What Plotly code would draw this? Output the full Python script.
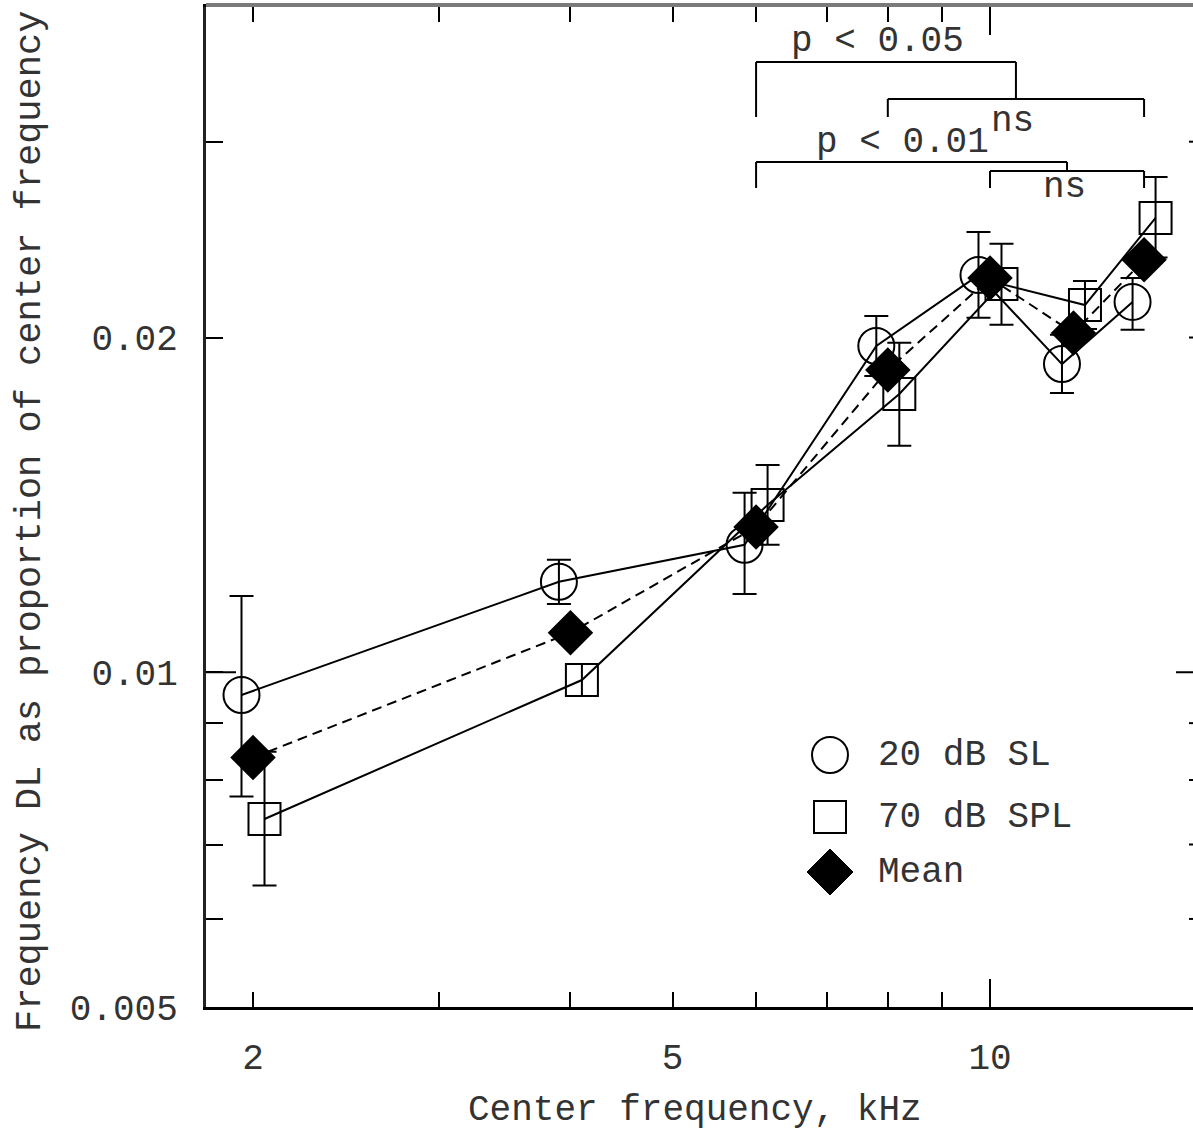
import numpy as np
import plotly.graph_objects as go

# ---------------- data ----------------
freq_khz = [2, 4, 6, 8, 10, 12, 14]

sl20 = [0.00954, 0.01206, 0.01302, 0.01965, 0.02276, 0.01893, 0.02153]
sl20_hi = [0.01171, 0.01262, 0.01450, 0.02091, 0.02488, 0.02011, 0.02262]
sl20_lo = [0.00773, 0.01152, 0.01176, 0.01847, 0.02083, 0.01783, 0.02032]

spl70 = [0.00738, 0.00984, 0.01414, 0.01779, 0.02234, 0.02139, 0.02562]
spl70_hi = [0.00848, 0.01017, 0.01536, 0.01978, 0.02428, 0.02248, 0.02789]
spl70_lo = [0.00643, 0.00952, 0.01302, 0.01598, 0.02053, 0.02036, 0.02360]

mean_dl = [0.00838, 0.01085, 0.01351, 0.01870, 0.02262, 0.02019, 0.02349]

series_names = ["20 dB SL", "70 dB SPL", "Mean"]

x_tickvals = [2, 5, 10]
x_ticktext = ["2", "5", "10"]
x_minor = [3, 4, 6, 7, 8, 9]
y_tickvals = [0.005, 0.01, 0.02]
y_ticktext = ["0.005", "0.01", "0.02"]
y_minor = [0.006, 0.007, 0.008, 0.009, 0.03]

# significance comparisons: reference frequency vs group of frequencies
comp_ref = [6, 6]
comp_group = [(8, 14), (10, 14)]
comp_label = ["p < 0.05", "p < 0.01"]
comp_group_label = ["ns", "ns"]

# ---------------- layout geometry ----------------
W, H = 1193, 1132
L, R, T, B = 206, 1193, 7, 1007          # plot area in pixels
PX_DEC_X = 1054.4
PX_DEC_Y = 1112.0


def xlog(px):
    return np.log10(2) + (px - 253) / PX_DEC_X


def ylog(px):
    return np.log10(0.005) + (1007 - px) / PX_DEC_Y


def py(px):  # pixel y -> paper y
    return (B - px) / (B - T)


def pxw(px):  # pixel width -> paper x
    return px / (R - L)


def pyh(px):
    return px / (B - T)


FONT = "Liberation Mono"
TXT = "#333333"
fs = 36

offset = 10 ** (11.5 / PX_DEC_X)
x_sl = [f / offset for f in freq_khz]
x_spl = [f * offset for f in freq_khz]


def err(v, hi, lo):
    return dict(type="data", symmetric=False,
                array=[h - a for a, h in zip(v, hi)],
                arrayminus=[a - l for a, l in zip(v, lo)],
                color="black", thickness=2, width=12)


fig = go.Figure()
fig.add_trace(go.Scatter(
    x=x_sl, y=sl20, name=series_names[0], mode="lines+markers",
    line=dict(color="black", width=2),
    marker=dict(symbol="circle-open", size=36, color="black",
                line=dict(width=2, color="black")),
    error_y=err(sl20, sl20_hi, sl20_lo), showlegend=False))
fig.add_trace(go.Scatter(
    x=x_spl, y=spl70, name=series_names[1], mode="lines+markers",
    line=dict(color="black", width=2),
    marker=dict(symbol="square-open", size=32, color="black",
                line=dict(width=2, color="black")),
    error_y=err(spl70, spl70_hi, spl70_lo), showlegend=False))
fig.add_trace(go.Scatter(
    x=freq_khz, y=mean_dl, name=series_names[2], mode="lines+markers",
    line=dict(color="black", width=2, dash="10px,6px"),
    marker=dict(symbol="diamond", size=35, color="black",
                line=dict(width=0)),
    showlegend=False))

shapes = []
annotations = []

# significance brackets
levels = [(62, 99, 117), (162, 171, 188)]
lab_y = [41, 142]
ns_y = [122, 187]
ln = dict(color="black", width=2)
for i in range(len(comp_ref)):
    ref = comp_ref[i]
    g0, g1 = comp_group[i]
    conn = np.sqrt(g0 * g1)
    ym, yg, ye = [py(v) for v in levels[i]]
    for x0, y0, x1, y1 in [(ref, ye, ref, ym), (ref, ym, conn, ym),
                           (conn, ym, conn, yg), (g0, yg, g1, yg),
                           (g0, yg, g0, ye), (g1, yg, g1, ye)]:
        shapes.append(dict(type="line", xref="x", yref="paper",
                           x0=x0, x1=x1, y0=y0, y1=y1, line=ln))
    annotations.append(dict(
        x=np.log10(np.sqrt(ref * conn)), y=py(lab_y[i]), xref="x", yref="paper",
        text=comp_label[i], showarrow=False, xanchor="center", yanchor="middle",
        xshift=-9, font=dict(family=FONT, size=fs, color=TXT)))
    annotations.append(dict(
        x=np.log10(conn), y=py(ns_y[i]), xref="x", yref="paper",
        text=comp_group_label[i], showarrow=False, xanchor="center",
        yanchor="middle", xshift=-3, font=dict(family=FONT, size=fs, color=TXT)))

# long decade ticks
shapes.append(dict(type="line", xref="x", yref="paper", x0=10, x1=10,
                   y0=0, y1=pyh(28), line=dict(color="black", width=2)))
shapes.append(dict(type="line", xref="x", yref="paper", x0=10, x1=10,
                   y0=1, y1=1 - pyh(28), line=dict(color="black", width=2)))
shapes.append(dict(type="line", xref="paper", yref="y", x0=0, x1=pxw(30),
                   y0=0.01, y1=0.01, line=dict(color="black", width=2)))
# right-hand ticks (axis lies just beyond the picture edge)
for v in y_minor + [0.02]:
    shapes.append(dict(type="line", xref="paper", yref="y",
                       x0=1 + pxw(13), x1=1 - pxw(4), y0=v, y1=v,
                       line=dict(color="black", width=2)))
shapes.append(dict(type="line", xref="paper", yref="y",
                   x0=1 + pxw(13), x1=1 - pxw(17), y0=0.01, y1=0.01,
                   line=dict(color="black", width=2)))
# grey top frame line
shapes.append(dict(type="line", xref="paper", yref="paper", x0=0, x1=1,
                   y0=1 + pyh(2), y1=1 + pyh(2),
                   line=dict(color="#7a7a7a", width=4)))

# legend (drawn manually, big symbols as in the original)
lx = (830 - L) / (R - L)
leg_y = [py(755), py(817), py(872)]
shapes.append(dict(type="circle", xref="paper", yref="paper",
                   xsizemode="pixel", ysizemode="pixel",
                   xanchor=lx, yanchor=leg_y[0], x0=-18, x1=18, y0=-18, y1=18,
                   line=dict(color="black", width=2)))
shapes.append(dict(type="rect", xref="paper", yref="paper",
                   xsizemode="pixel", ysizemode="pixel",
                   xanchor=lx, yanchor=leg_y[1], x0=-16, x1=16, y0=-16, y1=16,
                   line=dict(color="black", width=2)))
shapes.append(dict(type="path", xref="paper", yref="paper",
                   xsizemode="pixel", ysizemode="pixel",
                   xanchor=lx, yanchor=leg_y[2],
                   path="M -23 0 L 0 23 L 23 0 L 0 -23 Z",
                   fillcolor="black", line=dict(color="black", width=1)))
for name, yy in zip(series_names, leg_y):
    annotations.append(dict(x=(876 - L) / (R - L), y=yy, xref="paper", yref="paper",
                            text=name, showarrow=False, xanchor="left",
                            yanchor="middle",
                            font=dict(family=FONT, size=fs, color=TXT)))

# axis titles
annotations.append(dict(x=(695 - L) / (R - L), y=py(1110), xref="paper", yref="paper",
                        text="Center frequency, kHz", showarrow=False,
                        xanchor="center", yanchor="middle",
                        font=dict(family=FONT, size=fs, color=TXT)))
annotations.append(dict(x=(30 - L) / (R - L), y=py(522), xref="paper", yref="paper",
                        text="Frequency DL as proportion of center frequency",
                        showarrow=False, textangle=-90,
                        xanchor="center", yanchor="middle",
                        font=dict(family=FONT, size=37, color=TXT)))

fig.update_layout(
    width=W, height=H,
    margin=dict(l=L, r=W - R, t=T, b=H - B),
    paper_bgcolor="white", plot_bgcolor="white",
    shapes=shapes, annotations=annotations,
    xaxis=dict(type="log", range=[xlog(L), xlog(R)],
               tickmode="array", tickvals=x_tickvals, ticktext=x_ticktext,
               ticks="inside", ticklen=15, tickwidth=2, tickcolor="black",
               showline=True, linecolor="black", linewidth=3, mirror="ticks",
               showgrid=False, zeroline=False, ticklabelstandoff=16,
               tickfont=dict(family=FONT, size=fs, color=TXT),
               minor=dict(tickmode="array", tickvals=x_minor, ticks="inside",
                          ticklen=15, tickwidth=2, tickcolor="black",
                          showgrid=False)),
    yaxis=dict(type="log", range=[np.log10(0.005) - 1e-5, ylog(T)],
               tickmode="array", tickvals=y_tickvals, ticktext=y_ticktext,
               ticks="inside", ticklen=17, tickwidth=2, tickcolor="black",
               showline=True, linecolor="#222222", linewidth=3,
               showgrid=False, zeroline=False, ticklabelstandoff=18,
               tickfont=dict(family=FONT, size=fs, color=TXT),
               minor=dict(tickmode="array", tickvals=y_minor, ticks="inside",
                          ticklen=17, tickwidth=2, tickcolor="black",
                          showgrid=False)),
)

fig.write_html("out.html",
               config={"displayModeBar": False},
               post_script="document.body.style.margin='0px';"
                           "document.body.style.overflow='hidden';")
